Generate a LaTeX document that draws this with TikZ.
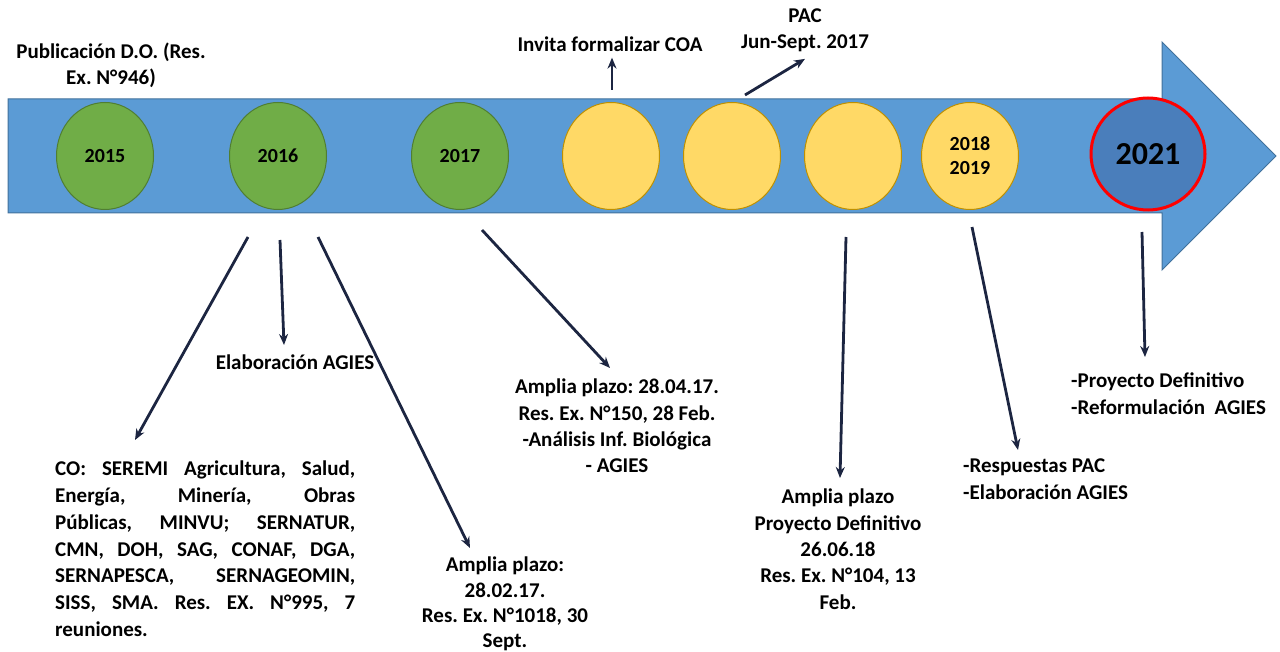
\documentclass[tikz,border=0pt]{standalone}
\usepackage{fontspec}
\setmainfont{Carlito}
\usetikzlibrary{arrows.meta, shapes.geometric, positioning, calc}
\definecolor{barblue}{HTML}{5B9BD5}
\definecolor{barline}{HTML}{41719C}
\definecolor{leaf}{HTML}{70AD47}
\definecolor{leafline}{HTML}{507E32}
\definecolor{sun}{HTML}{FFD966}
\definecolor{sunline}{HTML}{BF9000}
\definecolor{deepblue}{HTML}{4A7EBB}
\definecolor{ink}{HTML}{1C2541}
\tikzset{
  yearbase/.style={ellipse, minimum width=97pt, minimum height=107pt, inner sep=0pt, line width=1pt, font=\fontsize{20}{24}\selectfont\bfseries, align=center},
  done/.style={yearbase, fill=leaf, draw=leafline},
  open/.style={yearbase, fill=sun, draw=sunline},
  goal/.style={yearbase, minimum width=114pt, minimum height=112pt, fill=deepblue, draw=red, line width=3pt, font=\fontsize{32}{36}\selectfont\bfseries},
  note/.style={inner sep=0pt, font=\fontsize{21}{26.3}\selectfont\bfseries, align=center},
  link/.style={-{Stealth[length=11pt,width=9pt]}, line width=2.8pt, draw=ink}
}
\begin{document}
\frenchspacing
\begin{tikzpicture}[x=1pt,y=-1pt]
\useasboundingbox (0,0) rectangle (1280,652);
% timeline arrow
\draw[barline, fill=barblue, line width=1pt] (8,99) -- (1162,99) -- (1162,42) -- (1276,156) -- (1162,270) -- (1162,213) -- (8,213) -- cycle;

% years
\node[done] (y2015) at (105,156) {2015};
\node[done] (y2016) at (278,156) {2016};
\node[done] (y2017) at (460,156) {2017};
\node[open] (yA) at (611,156) {};
\node[open] (yB) at (732,156) {};
\node[open] (yC) at (853,156) {};
\node[open] (y2018) at (970,156) {2018\\2019};
\node[goal] (y2021) at (1148,154) {2021};

% labels above
\node[note] (publica) at (111,65) {Publicación D.O. (Res.\\Ex. N°946)};
\node[note] (invita) at (610,44) {Invita formalizar COA};
\node[note] (pac) at (805,30) {PAC\\Jun-Sept. 2017};

% labels below
\node[note, anchor=north west, text width=300pt, align=justify,
      font=\fontsize{21}{26.7}\selectfont\bfseries] (comite) at (55,461)
  {CO: SEREMI Agricultura, Salud,\linebreak Energía, Minería, Obras\linebreak Públicas, MINVU; SERNATUR,\linebreak CMN, DOH, SAG, CONAF, DGA,\linebreak SERNAPESCA, SERNAGEOMIN,\linebreak SISS, SMA. Res. EX. N°995, 7\linebreak reuniones.};
\node[note, anchor=north] (agies) at (295,355) {Elaboración AGIES};
\node[note, anchor=north, font=\fontsize{21}{25.3}\selectfont\bfseries] (plazoA) at (505,557) {Amplia plazo:\\28.02.17.\\Res. Ex. N°1018, 30\\Sept.};
\node[note, anchor=north] (plazoB) at (617,379) {Amplia plazo: 28.04.17.\\Res. Ex. N°150, 28 Feb.\\-Análisis Inf. Biológica\\- AGIES};
\node[note, anchor=north] (plazoC) at (838,489) {Amplia plazo\\Proyecto Definitivo\\26.06.18\\Res. Ex. N°104, 13\\Feb.};
\node[note, anchor=north west, align=left] (respuestas) at (963,459) {-Respuestas PAC\\-Elaboración AGIES};
\node[note, anchor=north west, align=left] (proyecto) at (1071,373) {-Proyecto Definitivo\\-Reformulación~ AGIES};

% arrow tails
\coordinate (tInvita) at (612,90);
\coordinate (tPac) at (745,95);
\coordinate (tComite) at (248,237);
\coordinate (tAgies) at (280,240);
\coordinate (tPlazoA) at (318,237);
\coordinate (tPlazoB) at (482,230);
\coordinate (tPlazoC) at (846,237);
\coordinate (tResp) at (972,227);
\coordinate (tProy) at (1142,232);

\draw[link] (tInvita) -- ($(invita.south)+(2,6)$);
\draw[link] (tPac) -- ($(pac.south)+(0,7)$);
\draw[link] (tComite) -- ($(comite.north west)+(80,-21)$);
\draw[link] (tAgies) -- ($(agies.north)+(-11,-10)$);
\draw[link] (tPlazoA) -- ($(plazoA.north)+(-35,-9)$);
\draw[link] (tPlazoB) -- ($(plazoB.north)+(-7,-11)$);
\draw[link] (tPlazoC) -- ($(plazoC.north)+(2,-11)$);
\draw[link] (tResp) -- ($(respuestas.north west)+(55,-9)$);
\draw[link] (tProy) -- ($(proyecto.north west)+(74,-16)$);
\end{tikzpicture}
\end{document}
